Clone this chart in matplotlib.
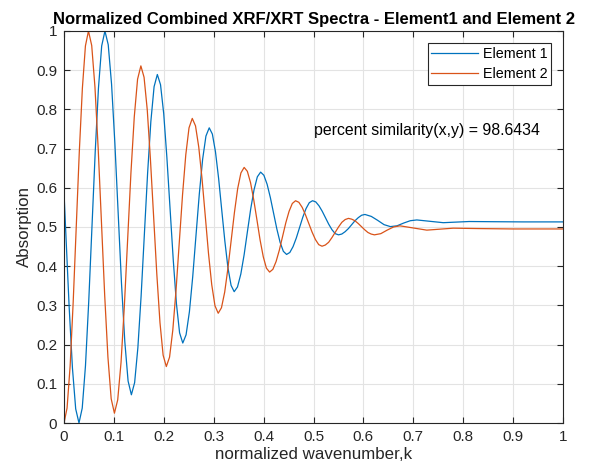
import matplotlib
matplotlib.use("Agg")
import matplotlib.pyplot as plt

plt.rcParams['font.family'] = ['Liberation Sans', 'DejaVu Sans']

# Element 1 (blue)
x1 = [0.000, 0.0038, 0.0103, 0.0169, 0.0234,
      0.030, 0.0365, 0.043, 0.0495, 0.056, 0.0625, 0.069, 0.0755, 0.082,
      0.0886, 0.0953, 0.1019, 0.1085, 0.1151, 0.1218, 0.1284, 0.135,
      0.1415, 0.148, 0.1545, 0.161, 0.1675, 0.174, 0.1805, 0.187,
      0.1934, 0.1998, 0.2061, 0.2125, 0.2189, 0.2253, 0.2316, 0.238,
      0.2446, 0.2513, 0.2579, 0.2645, 0.2711, 0.2778, 0.2844, 0.291,
      0.2973, 0.3035, 0.3098, 0.316, 0.3223, 0.3285, 0.3348, 0.341,
      0.3476, 0.3543, 0.3609, 0.3675, 0.3741, 0.3808, 0.3874, 0.394,
      0.4005, 0.407, 0.4135, 0.420, 0.4265, 0.433, 0.4395, 0.446,
      0.4525, 0.459, 0.4655, 0.472, 0.4785, 0.485, 0.4915, 0.498,
      0.5045, 0.511, 0.5175, 0.524, 0.5305, 0.537, 0.5435, 0.550,
      0.5566, 0.5633, 0.5699, 0.5765, 0.5831, 0.5898, 0.5964, 0.603,
      0.6158, 0.6285, 0.6413, 0.654,
      0.6673, 0.6805, 0.6938, 0.707,
      0.7335, 0.760, 0.786, 0.812, 0.860, 0.920, 1.000]
y1 = [0.587, 0.479, 0.296, 0.140, 0.036,
      0.000, 0.038, 0.146, 0.309, 0.500, 0.691, 0.854, 0.962, 1.000,
      0.965, 0.864, 0.714, 0.536, 0.358, 0.208, 0.107, 0.072,
      0.103, 0.192, 0.324, 0.481, 0.637, 0.769, 0.858, 0.889,
      0.863, 0.789, 0.678, 0.547, 0.416, 0.304, 0.230, 0.204,
      0.225, 0.284, 0.373, 0.479, 0.584, 0.673, 0.732, 0.753,
      0.737, 0.692, 0.624, 0.544, 0.464, 0.396, 0.351, 0.335,
      0.347, 0.380, 0.429, 0.488, 0.546, 0.595, 0.628, 0.640,
      0.632, 0.609, 0.575, 0.535, 0.495, 0.461, 0.438, 0.430,
      0.435, 0.450, 0.472, 0.4985, 0.525, 0.547, 0.562, 0.567,
      0.564, 0.554, 0.540, 0.5235, 0.507, 0.493, 0.483, 0.480,
      0.482, 0.488, 0.496, 0.506, 0.516, 0.524, 0.530, 0.532,
      0.527, 0.517, 0.506, 0.501,
      0.503, 0.510, 0.516, 0.518,
      0.5145, 0.511, 0.5125, 0.514, 0.5135, 0.513, 0.513]

# Element 2 (orange)
x2 = [0.000, 0.0061, 0.0123, 0.0184, 0.0245, 0.0306, 0.0368, 0.0429, 0.049,
      0.0555, 0.062, 0.0685, 0.075, 0.0815, 0.088, 0.0945, 0.101,
      0.1076, 0.1143, 0.1209, 0.1275, 0.1341, 0.1408, 0.1474, 0.154,
      0.1604, 0.1668, 0.1731, 0.1795, 0.1859, 0.1923, 0.1986, 0.205,
      0.2115, 0.218, 0.2245, 0.231, 0.2375, 0.244, 0.2505, 0.257,
      0.2635, 0.270, 0.2765, 0.283, 0.2895, 0.296, 0.3025, 0.309,
      0.3155, 0.322, 0.3285, 0.335, 0.3415, 0.348, 0.3545, 0.361,
      0.3674, 0.3738, 0.3801, 0.3865, 0.3929, 0.3993, 0.4056, 0.412,
      0.4185, 0.425, 0.4315, 0.438, 0.4445, 0.451, 0.4575, 0.464,
      0.4706, 0.4773, 0.4839, 0.4905, 0.4971, 0.5038, 0.5104, 0.517,
      0.5236, 0.5303, 0.5369, 0.5435, 0.5501, 0.5568, 0.5634, 0.570,
      0.5765, 0.583, 0.5895, 0.596, 0.6025, 0.609, 0.6155, 0.622,
      0.6348, 0.6475, 0.6603, 0.673,
      0.700, 0.727, 0.7535, 0.780, 0.830, 0.900, 1.000]
y2 = [0.000, 0.038, 0.146, 0.309, 0.500, 0.691, 0.854, 0.962, 1.000,
      0.963, 0.857, 0.699, 0.513, 0.326, 0.168, 0.062, 0.025,
      0.059, 0.155, 0.298, 0.468, 0.638, 0.781, 0.877, 0.911,
      0.882, 0.799, 0.674, 0.528, 0.381, 0.256, 0.173, 0.144,
      0.168, 0.237, 0.339, 0.461, 0.582, 0.684, 0.753, 0.777,
      0.758, 0.704, 0.624, 0.529, 0.433, 0.353, 0.299, 0.280,
      0.294, 0.334, 0.395, 0.466, 0.537, 0.598, 0.638, 0.652,
      0.642, 0.613, 0.570, 0.519, 0.467, 0.424, 0.395, 0.385,
      0.392, 0.412, 0.441, 0.476, 0.511, 0.540, 0.560, 0.567,
      0.563, 0.550, 0.531, 0.509, 0.487, 0.468, 0.455, 0.451,
      0.454, 0.461, 0.473, 0.4865, 0.500, 0.512, 0.519, 0.522,
      0.520, 0.516, 0.509, 0.501, 0.493, 0.486, 0.482, 0.480,
      0.483, 0.492, 0.500, 0.503,
      0.4975, 0.492, 0.4945, 0.497, 0.496, 0.495, 0.495]

ticks = [0, 0.1, 0.2, 0.3, 0.4, 0.5, 0.6, 0.7, 0.8, 0.9, 1]
tick_labels = ['0', '0.1', '0.2', '0.3', '0.4', '0.5', '0.6', '0.7', '0.8', '0.9', '1']
similarity = 98.6434

fig = plt.figure(figsize=(5.9, 4.71), dpi=100)
ax = fig.add_axes([0.1085, 0.1019, 0.8458, 0.8323])

ax.plot(x1, y1, color='#0072BD', lw=0.9, label='Element 1')
ax.plot(x2, y2, color='#D95319', lw=0.9, label='Element 2')

ax.set_xlim(0, 1)
ax.set_ylim(0, 1)
ax.set_xticks(ticks)
ax.set_xticklabels(tick_labels)
ax.set_yticks(ticks)
ax.set_yticklabels(tick_labels)
ax.grid(True, color='#e3e3e3', lw=0.8)
ax.set_axisbelow(True)
ax.tick_params(direction='in', top=True, right=True, length=4, width=0.8,
               labelsize=11, colors='#262626', pad=5)
for s in ax.spines.values():
    s.set_color('#262626')
    s.set_linewidth(0.8)

ax.set_title('Normalized Combined XRF/XRT Spectra - Element1 and Element 2',
             fontsize=12, fontweight='bold', pad=5)
ax.set_xlabel('normalized wavenumber,k', fontsize=12.2, color='#262626', labelpad=2)
ax.set_ylabel('Absorption', fontsize=12.2, color='#262626', labelpad=3)

ax.text(0.5, 0.747, 'percent similarity(x,y) = %.4f' % similarity,
        fontsize=11.4, va='center', ha='left')

leg = ax.legend(loc='upper right', fontsize=10.3, fancybox=False, framealpha=1,
                edgecolor='#262626', handlelength=3.3, handletextpad=0.3,
                borderaxespad=0.85, labelspacing=0.45, borderpad=0.25)
leg.get_frame().set_linewidth(0.8)

fig.savefig('out.png', dpi=100)
